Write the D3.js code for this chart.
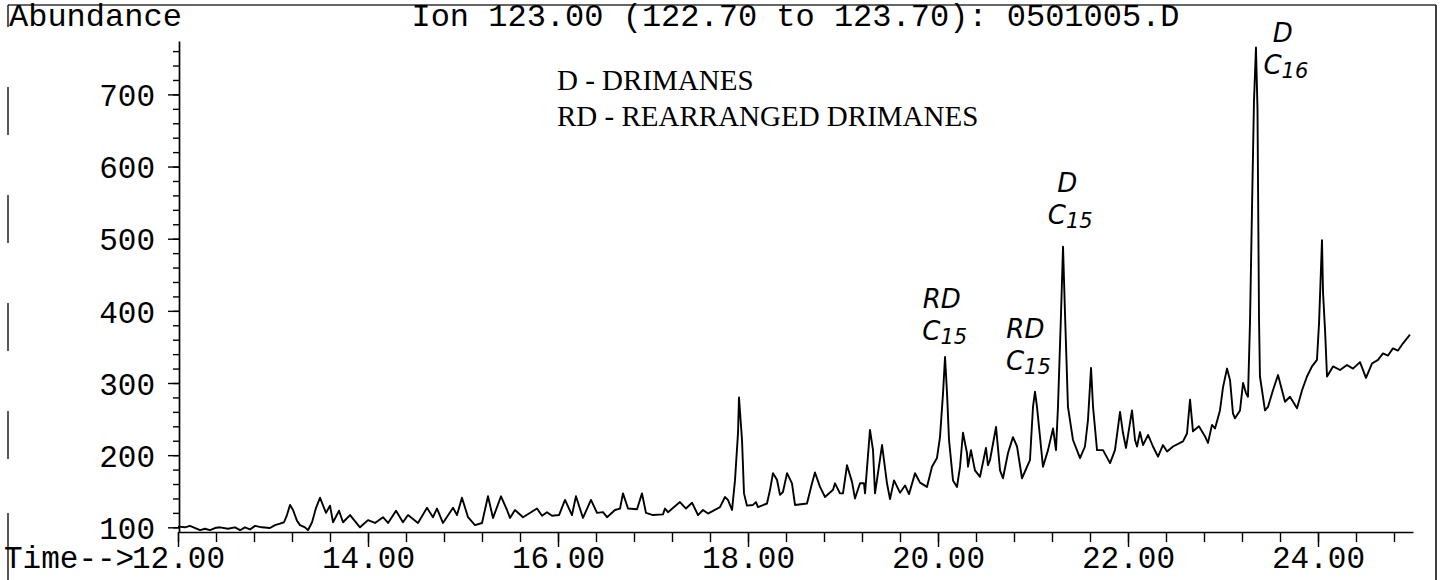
<!DOCTYPE html>
<html><head><meta charset="utf-8">
<script src="https://cdn.jsdelivr.net/npm/d3@7"></script>
<style>
html,body{margin:0;padding:0;background:#fff;}
svg{display:block;}
</style></head>
<body>
<svg id="chart" width="1446" height="580"></svg>
<script>
const times = [12.000,12.074,12.126,12.232,12.284,12.337,12.389,12.442,12.526,12.600,12.653,12.705,12.758,12.811,12.884,12.968,13.021,13.074,13.116,13.147,13.179,13.211,13.253,13.284,13.337,13.368,13.411,13.453,13.495,13.558,13.600,13.632,13.695,13.737,13.811,13.916,14.000,14.074,14.158,14.211,14.295,14.368,14.421,14.526,14.621,14.684,14.726,14.789,14.895,14.937,14.989,15.053,15.126,15.200,15.263,15.316,15.400,15.463,15.495,15.547,15.632,15.779,15.832,15.884,15.937,16.011,16.074,16.147,16.189,16.263,16.347,16.411,16.474,16.516,16.600,16.653,16.684,16.737,16.832,16.884,16.926,17.000,17.105,17.126,17.158,17.284,17.347,17.411,17.474,17.526,17.579,17.705,17.758,17.789,17.832,17.863,17.895,17.905,17.937,17.958,17.989,18.053,18.084,18.105,18.200,18.232,18.263,18.305,18.337,18.368,18.411,18.463,18.495,18.621,18.674,18.705,18.758,18.811,18.895,18.916,18.968,19.000,19.042,19.095,19.126,19.179,19.221,19.232,19.284,19.316,19.337,19.411,19.463,19.495,19.537,19.600,19.653,19.695,19.758,19.811,19.884,19.937,19.989,20.021,20.053,20.074,20.095,20.116,20.158,20.200,20.232,20.263,20.305,20.316,20.347,20.389,20.442,20.505,20.526,20.547,20.611,20.653,20.684,20.737,20.789,20.832,20.884,20.968,21.000,21.021,21.042,21.105,21.158,21.211,21.242,21.263,21.295,21.316,21.337,21.368,21.421,21.495,21.547,21.579,21.611,21.632,21.674,21.737,21.811,21.863,21.916,21.947,21.979,22.042,22.074,22.095,22.126,22.158,22.211,22.263,22.316,22.368,22.411,22.474,22.579,22.621,22.653,22.684,22.747,22.811,22.842,22.884,22.916,22.968,23.000,23.042,23.074,23.105,23.126,23.179,23.211,23.242,23.263,23.284,23.305,23.326,23.347,23.363,23.379,23.389,23.442,23.474,23.526,23.579,23.621,23.653,23.705,23.779,23.832,23.884,23.937,23.989,24.011,24.042,24.053,24.074,24.095,24.158,24.232,24.305,24.368,24.442,24.505,24.568,24.632,24.684,24.737,24.789,24.842,24.895,24.968];
const abundance = [101,100,102,96,98,96,99,100,98,100,96,100,97,102,100,99,103,105,107,117,131,124,109,103,100,96,107,127,141,120,130,107,123,107,117,100,110,106,114,106,123,107,117,106,127,114,126,106,127,117,141,114,103,106,143,113,143,124,113,124,114,126,116,121,116,117,138,117,143,113,138,120,121,114,124,126,147,126,125,147,120,117,118,126,121,135,126,134,117,124,119,128,142,138,124,165,231,280,221,147,130,131,135,128,133,152,175,166,145,149,175,161,131,133,161,176,156,142,152,161,147,147,186,163,140,161,161,147,235,207,147,214,161,139,165,148,158,146,175,162,156,184,196,225,286,336,286,221,165,156,184,231,203,184,207,179,170,210,186,193,239,179,168,203,225,212,168,193,267,288,267,184,207,237,207,267,396,489,396,267,221,196,212,249,321,267,207,207,189,207,260,231,210,262,221,212,232,214,228,212,198,214,205,212,219,230,277,233,240,226,217,242,237,262,294,320,304,258,251,262,300,286,281,383,540,690,765,680,390,309,262,267,290,311,290,274,281,265,290,309,323,332,383,498,425,374,309,323,318,325,320,329,307,327,332,341,338,348,345,355,367];

const xMajorTicks = [12,14,16,18,20,22,24];
const xTickLabels = ["12.00","14.00","16.00","18.00","20.00","22.00","24.00"];
const yMajorTicks = [100,200,300,400,500,600,700];
const yTickLabels = ["100","200","300","400","500","600","700"];
const titleText = "Ion 123.00 (122.70 to 123.70): 0501005.D";
const yAxisTitle = "Abundance";
const xAxisTitle = "Time-->";
const legendLines = ["D - DRIMANES","RD - REARRANGED DRIMANES"];
// hand-written peak annotations
const annotTypes = ["RD","RD","D","D"];
const annotCarbons = ["15","15","15","16"];
const annotTimes = [20.04,20.92,21.36,23.63];
const annotValues = [404,362,565,772];

const svg = d3.select("#chart");
const x = d3.scaleLinear().domain([12, 25]).range([178, 1413]);
const y = d3.scaleLinear().domain([93.5, 774]).range([532, 41]);
const mono = "'Liberation Mono','Courier New',monospace";

// page frame (scan)
svg.append("line").attr("x1",8).attr("x2",1436).attr("y1",5).attr("y2",5)
  .attr("stroke","#333").attr("stroke-width",1.4);
svg.append("line").attr("x1",1436).attr("x2",1436).attr("y1",5).attr("y2",580)
  .attr("stroke","#111").attr("stroke-width",1.6);
svg.append("line").attr("x1",8).attr("x2",8).attr("y1",5).attr("y2",580)
  .attr("stroke","#111").attr("stroke-width",1.4)
  .attr("stroke-dasharray","22,60,48,60,48,60,48,60,48,54,80");

// X axis
const gx = svg.append("g").attr("transform","translate(0,532)");
gx.call(d3.axisBottom(x).tickValues(d3.range(12, 24.81, 0.4)).tickSize(10).tickSizeOuter(0).tickFormat(""));
gx.call(g=>g.selectAll(".domain").attr("stroke-width",1.7));
const gx2 = svg.append("g").attr("transform","translate(0,532)");
gx2.call(d3.axisBottom(x).tickValues(xMajorTicks).tickSize(15).tickSizeOuter(0).tickFormat((d,i)=>xTickLabels[i]));
gx2.select(".domain").remove();
gx2.selectAll("text").attr("y",36).attr("dy",0).attr("font-family",mono).attr("font-size",31).attr("fill","#000");

// Y axis
const gy = svg.append("g").attr("transform","translate(179,0)");
gy.call(d3.axisLeft(y).tickValues(d3.range(100, 761, 20)).tickSize(6).tickSizeOuter(0).tickFormat(""));
gy.call(g=>g.selectAll(".domain").attr("stroke-width",1.7));
const gy2 = svg.append("g").attr("transform","translate(179,0)");
gy2.call(d3.axisLeft(y).tickValues(yMajorTicks).tickSize(11).tickPadding(13).tickSizeOuter(0).tickFormat((d,i)=>yTickLabels[i]));
gy2.select(".domain").remove();
gy2.selectAll("text").attr("font-family",mono).attr("font-size",31).attr("fill","#000").attr("dy","0.36em");
svg.selectAll(".tick line").attr("stroke-width",1.4);

// titles
svg.append("text").attr("x",9).attr("y",26).attr("font-family",mono).attr("font-size",32).text(yAxisTitle);
svg.append("text").attr("x",(x.range()[0]+x.range()[1])/2).attr("y",26).attr("text-anchor","middle")
  .attr("font-family",mono).attr("font-size",32).text(titleText);
svg.append("text").attr("x",4).attr("y",568).attr("font-family",mono).attr("font-size",31).text(xAxisTitle);

// legend
svg.selectAll("text.legend").data(legendLines).join("text").attr("class","legend")
  .attr("x",557).attr("y",(d,i)=>90+i*36)
  .attr("font-family","'Liberation Serif','Times New Roman',serif").attr("font-size",29).text(d=>d);

// trace
const line = d3.line().x((d,i)=>x(times[i])).y((d,i)=>y(abundance[i]));
svg.append("path").datum(abundance).attr("d",line).attr("fill","none").attr("stroke","#000")
  .attr("stroke-width",1.9).attr("stroke-linejoin","round");

// annotations
const hand = "'DejaVu Sans',sans-serif";
annotTypes.forEach((tp,i)=>{
  const ax = x(annotTimes[i]), ay = y(annotValues[i]);
  svg.append("text").attr("x",ax).attr("y",ay).attr("text-anchor","middle").attr("fill","#000")
    .attr("font-family",hand).attr("font-style","italic").attr("font-weight",400).attr("font-size",26).text(tp);
  const t2 = svg.append("text").attr("x",ax+3).attr("y",ay+32).attr("text-anchor","middle").attr("fill","#000")
    .attr("font-family",hand).attr("font-style","italic").attr("font-weight",400).attr("font-size",26);
  t2.append("tspan").text("C");
  t2.append("tspan").attr("font-size",21).attr("dy",4).text(annotCarbons[i]);
});
</script>
</body></html>
